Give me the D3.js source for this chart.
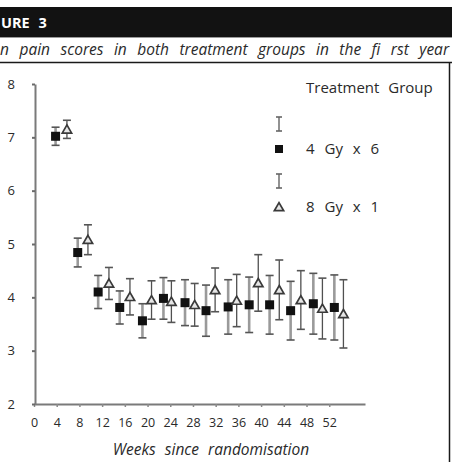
<!DOCTYPE html>
<html>
<head>
<meta charset="utf-8">
<script src="https://cdn.jsdelivr.net/npm/d3@7"></script>
<style>
  html, body { margin: 0; padding: 0; background: #fff; }
  svg { display: block; }
  text { font-family: "Open Sans", "Noto Sans", sans-serif; }
</style>
</head>
<body>
<svg id="chart" width="452" height="462"></svg>
<script>
// Mean pain score (± error) by week for each treatment group
const groups = ["4 Gy x 6", "8 Gy x 1"];

const weeksA = [3.8, 7.7, 11.3, 15.1, 19.1, 22.8, 26.6, 30.3, 34.2, 37.9, 41.5, 45.2, 49.2, 52.9];
const meanA  = [7.02, 4.84, 4.10, 3.81, 3.56, 3.98, 3.90, 3.75, 3.82, 3.86, 3.86, 3.75, 3.88, 3.81];
const errA   = [0.17, 0.27, 0.31, 0.31, 0.32, 0.39, 0.43, 0.48, 0.51, 0.52, 0.55, 0.55, 0.57, 0.61];

const weeksB = [5.8, 9.5, 13.2, 16.9, 20.7, 24.2, 28.3, 31.9, 35.7, 39.5, 43.2, 47.0, 50.8, 54.5];
const meanB  = [7.15, 5.08, 4.26, 4.01, 3.95, 3.92, 3.86, 4.14, 3.94, 4.27, 4.14, 3.95, 3.79, 3.69];
const errB   = [0.17, 0.28, 0.30, 0.34, 0.36, 0.39, 0.40, 0.41, 0.49, 0.53, 0.56, 0.55, 0.57, 0.64];

const xTicks = [0, 4, 8, 12, 16, 20, 24, 28, 32, 36, 40, 44, 48, 52];
const yTicks = [2, 3, 4, 5, 6, 7, 8];

const headerText = "URE 3";
const subtitleText = "n pain scores in both treatment groups in the fi rst year";
const xTitle = "Weeks since randomisation";
const legendTitle = "Treatment Group";

const svg = d3.select("#chart");

// Widen the gaps between words so a line fills the given width
function fitWords(sel, width) {
  const node = sel.node();
  const natural = node.getComputedTextLength();
  const gaps = (sel.text().match(/ /g) || []).length;
  if (gaps) sel.attr("word-spacing", Math.max(0, (width - natural) / gaps));
}

// Header band and caption
svg.append("rect").attr("x", 0).attr("y", 7).attr("width", 452).attr("height", 30).attr("fill", "#121212");
svg.append("text").attr("x", 1).attr("y", 28)
  .attr("fill", "#fff").attr("font-size", 14.5).attr("font-weight", 700)
  .attr("word-spacing", 5).text(headerText);
svg.append("line").attr("x1", 0).attr("x2", 452).attr("y1", 37.5).attr("y2", 37.5)
  .attr("stroke", "#9a9a9a").attr("stroke-width", 1);
const sub = svg.append("text").attr("x", 0).attr("y", 55)
  .attr("fill", "#2a2a2a").attr("font-size", 15.5).attr("font-style", "italic")
  .text(subtitleText);
fitWords(sub, 449);
svg.append("line").attr("x1", 0).attr("x2", 452).attr("y1", 62.5).attr("y2", 62.5)
  .attr("stroke", "#1a1a1a").attr("stroke-width", 1.5);
svg.append("line").attr("x1", 449.5).attr("x2", 449.5).attr("y1", 62).attr("y2", 462)
  .attr("stroke", "#1a1a1a").attr("stroke-width", 1.5);

// Scales
const x = d3.scaleLinear().domain([0, 58.3]).range([34, 365]);
const y = d3.scaleLinear().domain([2, 8]).range([404, 84]);

// Axes
const xAxis = svg.append("g").attr("transform", "translate(0,404)")
  .call(d3.axisBottom(x).tickValues(xTicks).tickFormat(d3.format("d")).tickSize(3).tickSizeOuter(0));
xAxis.select(".domain").attr("stroke", "#7a7a7a").attr("stroke-width", 2);
xAxis.selectAll(".tick line").attr("stroke", "#8a8a8a").attr("stroke-width", 1.5);
xAxis.selectAll(".tick text").attr("y", 14).attr("fill", "#2a2a2a")
  .attr("font-size", 12.5).attr("font-family", "'Open Sans', sans-serif");

const yAxis = svg.append("g").attr("transform", "translate(35,0)")
  .call(d3.axisLeft(y).tickValues(yTicks).tickFormat(d3.format("d")).tickSize(3).tickPadding(17).tickSizeOuter(0));
yAxis.select(".domain").attr("stroke", "#7a7a7a").attr("stroke-width", 2);
yAxis.selectAll(".tick line").attr("stroke", "#6a6a6a").attr("stroke-width", 2);
yAxis.selectAll(".tick text").attr("fill", "#2a2a2a")
  .attr("font-size", 13).attr("font-family", "'Open Sans', sans-serif");

svg.append("text").attr("x", 211).attr("y", 455).attr("text-anchor", "middle")
  .attr("fill", "#2a2a2a").attr("font-size", 15.5).attr("font-style", "italic")
  .attr("word-spacing", 5).text(xTitle);

// Error bars
function errorBars(weeks, means, errs, stroke, width, cls) {
  const rows = weeks.map((w, i) => ({ w, m: means[i], e: errs[i] }));
  const g = svg.append("g").attr("class", cls);
  const bar = g.selectAll("g").data(rows).join("g");
  bar.append("line")
    .attr("x1", d => x(d.w)).attr("x2", d => x(d.w))
    .attr("y1", d => y(d.m + d.e)).attr("y2", d => y(d.m - d.e))
    .attr("stroke", stroke).attr("stroke-width", width);
  [1, -1].forEach(s => {
    bar.append("line")
      .attr("x1", d => x(d.w) - 4).attr("x2", d => x(d.w) + 4)
      .attr("y1", d => y(d.m + s * d.e)).attr("y2", d => y(d.m + s * d.e))
      .attr("stroke", "#555").attr("stroke-width", 1.6);
  });
  return rows;
}
const rowsA = errorBars(weeksA, meanA, errA, "#9a9a9a", 2.6, "err-a");
const rowsB = errorBars(weeksB, meanB, errB, "#505050", 1.3, "err-b");

// Markers
svg.append("g").selectAll("rect").data(rowsA).join("rect")
  .attr("x", d => x(d.w) - 4.5).attr("y", d => y(d.m) - 4.5)
  .attr("width", 9).attr("height", 9).attr("fill", "#111");

const tri = d3.symbol().type(d3.symbolTriangle).size(38);
svg.append("g").selectAll("path").data(rowsB).join("path")
  .attr("d", tri)
  .attr("transform", d => `translate(${x(d.w)},${y(d.m) + 1})`)
  .attr("fill", "#e6e6e6").attr("stroke", "#3a3a3a").attr("stroke-width", 1.7);

// Legend
const lg = svg.append("g");
lg.append("text").attr("x", 306).attr("y", 93).attr("fill", "#2a2a2a")
  .attr("font-size", 15).attr("word-spacing", 5).text(legendTitle);

function legendBar(cy) {
  lg.append("line").attr("x1", 279).attr("x2", 279).attr("y1", cy - 7).attr("y2", cy + 7)
    .attr("stroke", "#777").attr("stroke-width", 1.6);
  [-7, 7].forEach(o => lg.append("line").attr("x1", 276).attr("x2", 282)
    .attr("y1", cy + o).attr("y2", cy + o).attr("stroke", "#666").attr("stroke-width", 1.6));
}
legendBar(124);
legendBar(181);
lg.append("rect").attr("x", 275).attr("y", 145).attr("width", 8).attr("height", 8).attr("fill", "#111");
lg.append("path").attr("d", tri).attr("transform", "translate(279,208)")
  .attr("fill", "#e6e6e6").attr("stroke", "#3a3a3a").attr("stroke-width", 1.7);
lg.selectAll(".item").data(groups).join("text").attr("class", "item")
  .attr("x", 306).attr("y", (d, i) => 154 + i * 58)
  .attr("fill", "#2a2a2a").attr("font-size", 15).attr("word-spacing", 6)
  .text(d => d);
</script>
</body>
</html>
